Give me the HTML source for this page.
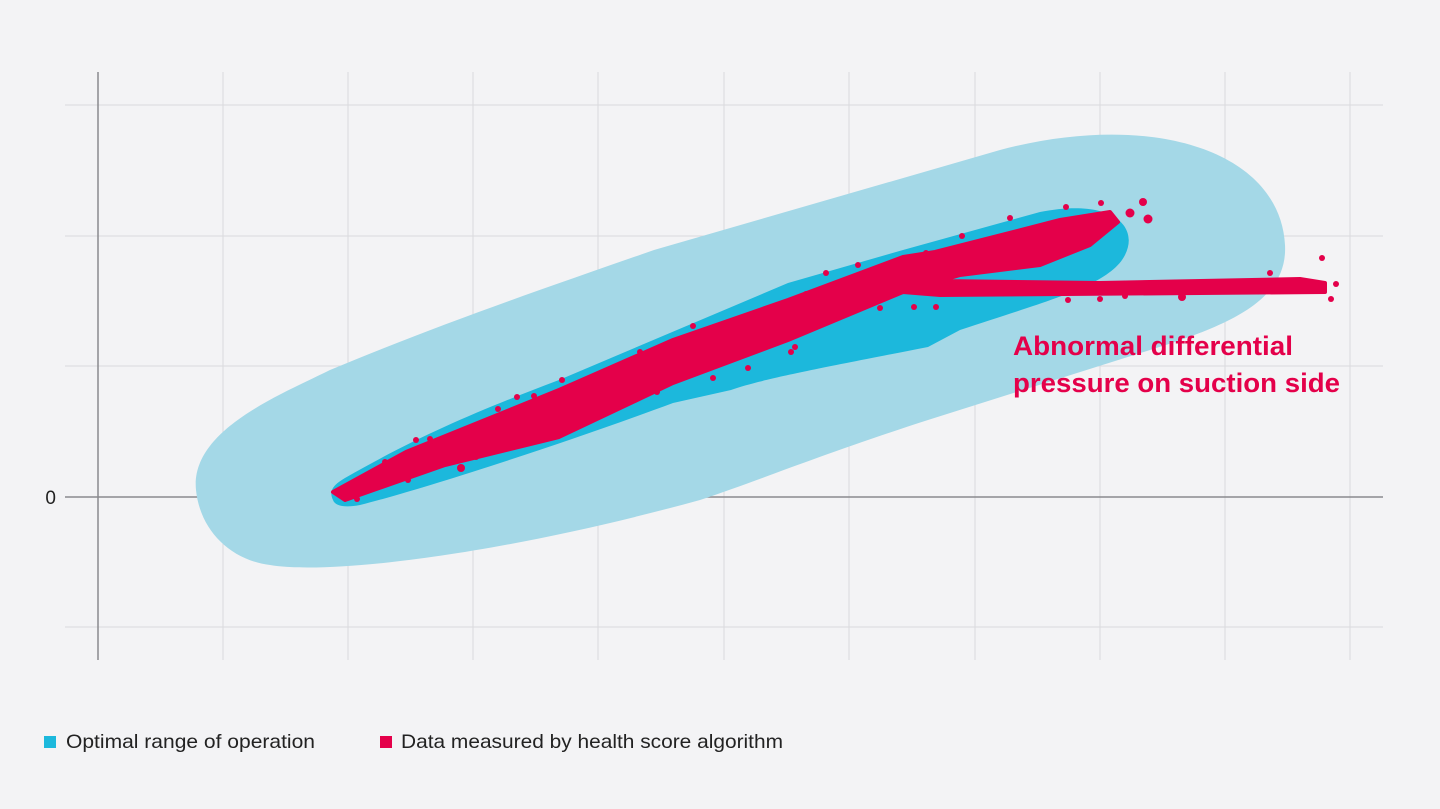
<!DOCTYPE html>
<html><head><style>
body{margin:0;background:#f3f3f5;}
svg{display:block}
</style></head><body>
<svg width="1440" height="809" viewBox="0 0 1440 809" xmlns="http://www.w3.org/2000/svg">
<rect width="1440" height="809" fill="#f3f3f5"/>
<g stroke="#d9d9dd" stroke-width="1">
<line x1="65" y1="105" x2="1383" y2="105"/>
<line x1="65" y1="236" x2="1383" y2="236"/>
<line x1="65" y1="366" x2="1383" y2="366"/>
<line x1="65" y1="627" x2="1383" y2="627"/>
<line x1="223" y1="72" x2="223" y2="660"/>
<line x1="348" y1="72" x2="348" y2="660"/>
<line x1="473" y1="72" x2="473" y2="660"/>
<line x1="598" y1="72" x2="598" y2="660"/>
<line x1="724" y1="72" x2="724" y2="660"/>
<line x1="849" y1="72" x2="849" y2="660"/>
<line x1="975" y1="72" x2="975" y2="660"/>
<line x1="1100" y1="72" x2="1100" y2="660"/>
<line x1="1225" y1="72" x2="1225" y2="660"/>
<line x1="1350" y1="72" x2="1350" y2="660"/>
</g>
<g stroke="#8a8a8e" stroke-width="1.5">
<line x1="98" y1="72" x2="98" y2="660"/>
<line x1="65" y1="497" x2="1383" y2="497"/>
</g>
<path d="M196 490 C190 430,280 395,330 370 C450 320,560 283,654 250 L1000 150 C1150 110,1280 150,1285 245 C1288 300,1230 325,1150 350 L928 420 C820 455,760 480,700 500 C500 555,330 575,270 565 C230 560,200 530,196 490Z" fill="#a4d8e7"/>
<path d="M333 500 C328 490,335 484,345 478 C420 435,480 410,559 380 L788 283 L903 250 L1040 212 C1110 198,1140 225,1125 255 C1110 285,1050 300,960 330 L928 347 C800 372,760 380,731 390 L673 403 C560 445,420 490,360 505 C345 508,335 506,333 500Z" fill="#1cb8dc"/>
<g fill="#e4004a" stroke="#e4004a">
<path d="M333,492 L406,452 L559,390 L673,340 L788,300 L903,257 L935,252 L1060,220 L1110,212 L1118,222 L1090,245 L1040,265 L960,275 L940,281 L1100,283 L1300,279 L1325,283 L1325,292 L1200,293 L940,295 L903,292 L788,340 L673,383 L559,437 L445,465 L345,500 Z" stroke-width="4" stroke-linejoin="round"/>
<g stroke="none">
<circle cx="1130" cy="213" r="4.5"/><circle cx="1143" cy="202" r="4"/><circle cx="1148" cy="219" r="4.5"/>
<circle cx="1066" cy="207" r="3"/><circle cx="1101" cy="203" r="3"/><circle cx="1010" cy="218" r="3"/>
<circle cx="962" cy="236" r="3"/><circle cx="926" cy="253" r="3"/><circle cx="1081" cy="242" r="3"/>
<circle cx="1322" cy="258" r="3"/><circle cx="1336" cy="284" r="3"/><circle cx="1331" cy="299" r="3"/>
<circle cx="1270" cy="273" r="3"/><circle cx="1182" cy="297" r="4"/><circle cx="1068" cy="300" r="3"/>
<circle cx="1125" cy="296" r="3"/><circle cx="1169" cy="283" r="3"/><circle cx="1100" cy="299" r="3"/>
<circle cx="914" cy="307" r="3"/><circle cx="936" cy="307" r="3"/><circle cx="880" cy="308" r="3"/>
<circle cx="855" cy="306" r="3"/><circle cx="791" cy="352" r="3"/><circle cx="795" cy="347" r="3"/>
<circle cx="748" cy="368" r="3"/><circle cx="713" cy="378" r="3"/><circle cx="657" cy="392" r="3"/>
<circle cx="573" cy="412" r="3"/><circle cx="461" cy="468" r="4"/>
<circle cx="476" cy="457" r="3"/><circle cx="408" cy="480" r="3"/><circle cx="357" cy="499" r="3"/>
<circle cx="826" cy="273" r="3"/><circle cx="858" cy="265" r="3"/><circle cx="806" cy="294" r="3"/>
<circle cx="750" cy="318" r="3"/><circle cx="693" cy="326" r="3"/><circle cx="640" cy="352" r="3"/>
<circle cx="562" cy="380" r="3"/><circle cx="534" cy="396" r="3"/><circle cx="517" cy="397" r="3"/>
<circle cx="498" cy="409" r="3"/><circle cx="430" cy="439" r="3"/><circle cx="416" cy="440" r="3"/>
<circle cx="385" cy="462" r="3"/><circle cx="955" cy="260" r="3"/><circle cx="1018" cy="257" r="3"/>
</g>
</g>
<text x="56" y="504" font-family="Liberation Sans, sans-serif" font-size="19" fill="#222" text-anchor="end">0</text>
<text font-family="Liberation Sans, sans-serif" font-size="27" font-weight="bold" fill="#e4004a"><tspan x="1013" y="355" textLength="280" lengthAdjust="spacingAndGlyphs">Abnormal differential</tspan><tspan x="1013" y="392" textLength="327" lengthAdjust="spacingAndGlyphs">pressure on suction side</tspan></text>
<rect x="44" y="736" width="12" height="12" fill="#1cb8dc"/>
<text x="66" y="748" font-family="Liberation Sans, sans-serif" font-size="19.5" fill="#222" textLength="249" lengthAdjust="spacingAndGlyphs">Optimal range of operation</text>
<rect x="380" y="736" width="12" height="12" fill="#e4004a"/>
<text x="401" y="748" font-family="Liberation Sans, sans-serif" font-size="19.5" fill="#222" textLength="382" lengthAdjust="spacingAndGlyphs">Data measured by health score algorithm</text>
</svg>
</body></html>
